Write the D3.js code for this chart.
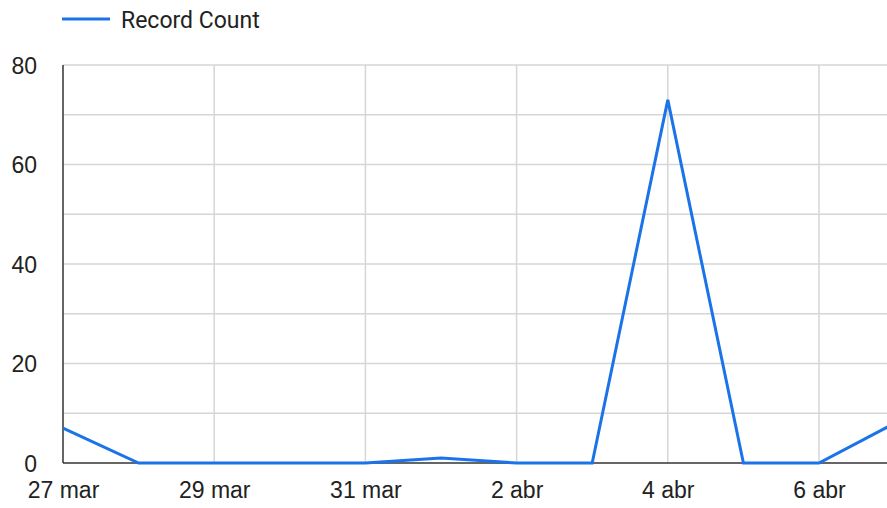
<!DOCTYPE html>
<html>
<head>
<meta charset="utf-8">
<script src="https://cdn.jsdelivr.net/npm/d3@7"></script>
<style>
  body { margin: 0; background: #fff; }
  svg { display: block; font-family: Roboto, "Noto Sans", sans-serif; }
  .grid line { stroke: #d6d6d6; stroke-width: 1.5; }
  .tick text { fill: #222; font-size: 23px; }
</style>
</head>
<body>
<script>
// Record counts per day, 27 mar .. 7 abr
const days = ["2024-03-27", "2024-03-28", "2024-03-29", "2024-03-30", "2024-03-31",
  "2024-04-01", "2024-04-02", "2024-04-03", "2024-04-04", "2024-04-05",
  "2024-04-06", "2024-04-07"];
const recordCount = [7, 0, 0, 0, 0, 1, 0, 0, 73, 0, 0, 8];
const xTickDays = ["2024-03-27", "2024-03-29", "2024-03-31", "2024-04-02", "2024-04-04", "2024-04-06"];
const xTickLabels = ["27 mar", "29 mar", "31 mar", "2 abr", "4 abr", "6 abr"];
const yTicks = [0, 20, 40, 60, 80];
const yGrid = [10, 20, 30, 40, 50, 60, 70, 80];
const seriesName = "Record Count";

const W = 887, H = 508;
const plot = {left: 63, top: 65, bottom: 463, dayWidth: 75.6};

const parse = d3.utcParse("%Y-%m-%d");
const data = days.map((d, i) => ({t: parse(d), v: recordCount[i]}));

const x = d3.scaleUtc()
    .domain([parse(days[0]), parse(days[days.length - 1])])
    .range([plot.left, plot.left + plot.dayWidth * (days.length - 1)]);
const y = d3.scaleLinear().domain([0, 80]).range([plot.bottom, plot.top]);

const svg = d3.select("body").append("svg")
    .attr("width", W)
    .attr("height", H);

// vertical gridlines
svg.append("g")
    .attr("class", "grid")
    .selectAll("line")
    .data(xTickDays.slice(1))
    .join("line")
    .attr("x1", d => x(parse(d)))
    .attr("x2", d => x(parse(d)))
    .attr("y1", plot.top)
    .attr("y2", plot.bottom);

// horizontal gridlines
svg.append("g")
    .attr("class", "grid")
    .selectAll("line")
    .data(yGrid)
    .join("line")
    .attr("x1", plot.left)
    .attr("x2", W)
    .attr("y1", d => y(d))
    .attr("y2", d => y(d));

// y axis labels
svg.append("g")
    .attr("transform", "translate(" + plot.left + ",0)")
    .call(d3.axisLeft(y).tickValues(yTicks).tickSize(0).tickPadding(26))
    .call(g => g.select(".domain").remove())
    .call(g => g.selectAll(".tick text").attr("dy", "0.36em"));

// x axis labels
svg.append("g")
    .attr("transform", "translate(0," + plot.bottom + ")")
    .call(d3.axisBottom(x)
        .tickValues(xTickDays.map(parse))
        .tickFormat((d, i) => xTickLabels[i])
        .tickSize(0)
        .tickPadding(19))
    .call(g => g.select(".domain").remove());

// axis lines
svg.append("line")
    .attr("x1", plot.left).attr("x2", plot.left)
    .attr("y1", plot.top).attr("y2", plot.bottom)
    .attr("stroke", "#333").attr("stroke-width", 1.5);
svg.append("line")
    .attr("x1", plot.left).attr("x2", W)
    .attr("y1", plot.bottom).attr("y2", plot.bottom)
    .attr("stroke", "#333").attr("stroke-width", 1.5);

// series line
const line = d3.line().x(d => x(d.t)).y(d => y(d.v));
svg.append("path")
    .datum(data)
    .attr("d", line)
    .attr("fill", "none")
    .attr("stroke", "#1a73e8")
    .attr("stroke-width", 3)
    .attr("stroke-linejoin", "miter");

// legend
const legend = svg.append("g");
legend.append("line")
    .attr("x1", 62).attr("x2", 110)
    .attr("y1", 19).attr("y2", 19)
    .attr("stroke", "#1a73e8").attr("stroke-width", 3);
legend.append("text")
    .attr("x", 121).attr("y", 20)
    .attr("dy", "0.35em")
    .attr("font-size", 23)
    .attr("fill", "#222")
    .text(seriesName);
</script>
</body>
</html>
